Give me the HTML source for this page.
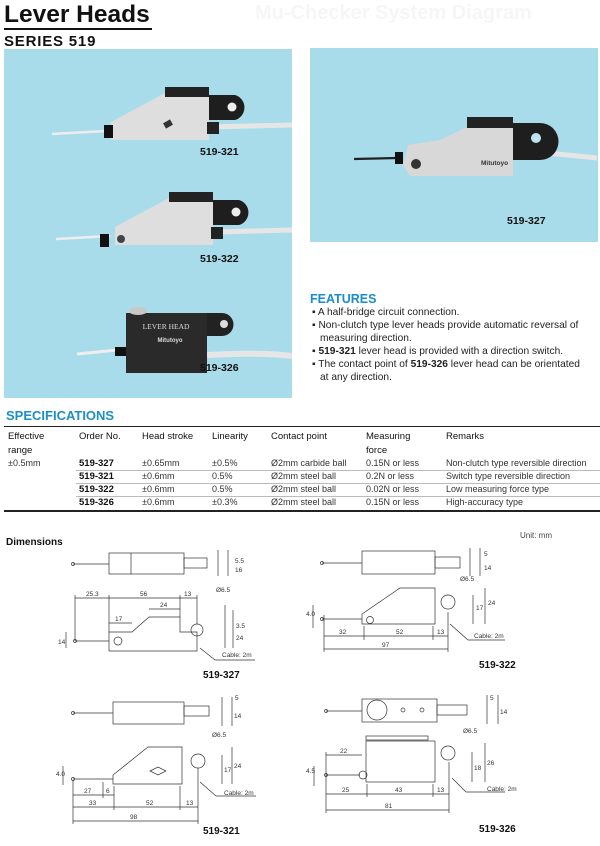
<!DOCTYPE html>
<html><head><meta charset="utf-8"><style>
body{margin:0;width:600px;height:846px;background:#fff;position:relative;overflow:hidden;font-family:"Liberation Sans",sans-serif;color:#111}
.a{position:absolute;white-space:nowrap}
.b{font-weight:bold}
.feat{font-size:10.2px;color:#222}
.t{font-size:9px;color:#333}
.th{font-size:9.5px;color:#111}
</style></head><body>
<div class="a b" style="left:4px;top:1px;font-size:24.5px">Lever Heads</div>
<div class="a" style="left:4px;top:28px;width:148px;height:2px;background:#111"></div>
<div class="a b" style="left:4px;top:33px;font-size:15px;letter-spacing:0.8px">SERIES 519</div>
<div class="a" style="left:255px;top:2px;font-size:20px;color:#f6f6f6;font-weight:bold">Mu-Checker System Diagram</div>

<div class="a" style="left:4px;top:49px;width:288px;height:349px;background:#a9dcea"></div>
<div class="a" style="left:310px;top:48px;width:288px;height:194px;background:#a9dcea"></div>

<svg class="a" style="left:0;top:0" width="600" height="846">
<g>
<line x1="52" y1="134" x2="106" y2="131" stroke="#eee" stroke-width="2.5"/>
<path d="M209 127 Q250 126 292 125" stroke="#e6e6e6" stroke-width="5" fill="none"/>
<polygon points="111,140 111,122 165,93 209,93 209,140" fill="#dedede"/>
<rect x="165" y="87" width="44" height="10" fill="#222"/>
<path d="M209 95 H235 A13 13 0 0 1 235 120 H209Z" fill="#1e1e1e"/>
<circle cx="232" cy="107" r="4.5" fill="#eee"/>
<rect x="104" y="125" width="9" height="13" fill="#111"/>
<rect x="207" y="122" width="12" height="12" fill="#222"/>
<rect x="164" y="121" width="8" height="6" fill="#333" transform="rotate(-30 168 124)"/>
</g>
<g transform="translate(4,105)">
<line x1="52" y1="134" x2="106" y2="131" stroke="#eee" stroke-width="2.5"/>
<path d="M209 127 Q250 126 288 125" stroke="#e6e6e6" stroke-width="5" fill="none"/>
<polygon points="111,140 111,122 165,93 209,93 209,140" fill="#dedede"/>
<rect x="165" y="87" width="44" height="10" fill="#222"/>
<path d="M209 95 H235 A13 13 0 0 1 235 120 H209Z" fill="#1e1e1e"/>
<circle cx="232" cy="107" r="4.5" fill="#eee"/>
<rect x="96" y="129" width="9" height="13" fill="#111"/>
<circle cx="117" cy="134" r="4" fill="#444"/>
<rect x="207" y="122" width="12" height="12" fill="#222"/>
</g>
<g>
<line x1="77" y1="354" x2="118" y2="350" stroke="#eee" stroke-width="3"/>
<path d="M207 355 Q260 352 292 356" stroke="#e6e6e6" stroke-width="6" fill="none"/>
<rect x="126" y="313" width="81" height="60" fill="#2a2a2a"/>
<path d="M207 313 H222 A11 11 0 0 1 222 336 H207Z" fill="#222"/>
<circle cx="224" cy="324" r="4" fill="#ddd"/>
<ellipse cx="138" cy="311" rx="9" ry="4" fill="#c8c8c8"/>
<rect x="115" y="347" width="11" height="9" fill="#111"/>
<text x="166" y="329" font-family="Liberation Serif" font-size="7.5" fill="#ddd" text-anchor="middle">LEVER HEAD</text>
<text x="170" y="342" font-family="Liberation Sans" font-size="6" fill="#ddd" text-anchor="middle" font-weight="bold">Mitutoyo</text>
</g>
<g>
<line x1="354" y1="159" x2="397" y2="158" stroke="#222" stroke-width="2.2"/>
<path d="M513 150 Q560 154 597 158" stroke="#e6e6e6" stroke-width="5" fill="none"/>
<polygon points="410,176 403,165 408,145 440,140 467,127 513,127 513,176" fill="#d8d8d8"/>
<rect x="467" y="117" width="46" height="11" fill="#222"/>
<path d="M513 123 H540 A15 15 0 0 1 540 160 H513Z" fill="#1e1e1e"/>
<circle cx="536" cy="138" r="5" fill="#bfe3ee"/>
<rect x="395" y="152" width="8" height="12" fill="#111"/>
<circle cx="416" cy="164" r="5" fill="#333"/>
<text x="481" y="165" font-size="6.5" font-weight="bold" fill="#333">Mitutoyo</text>
</g>

<g stroke="#333" stroke-width="0.7" fill="none">
<rect x="109" y="553" width="75" height="21"/><rect x="184" y="558" width="23" height="10"/>
<line x1="131" y1="553" x2="131" y2="574"/><line x1="73" y1="564" x2="109" y2="564"/><circle cx="73" cy="564" r="1.5"/>
<line x1="218" y1="550" x2="218" y2="576"/><line x1="228" y1="550" x2="228" y2="576"/>
<polygon points="109,651 109,632 132,632 149,617 180,617 180,632 197,632 197,651"/>
<circle cx="197" cy="630" r="6"/><circle cx="118" cy="641" r="4"/>
<line x1="75" y1="641" x2="109" y2="641"/><circle cx="75" cy="641" r="1.5"/>
<line x1="75" y1="598" x2="197" y2="598"/><line x1="75" y1="595" x2="75" y2="641"/><line x1="109" y1="595" x2="109" y2="632"/><line x1="180" y1="595" x2="180" y2="617"/><line x1="197" y1="595" x2="197" y2="624"/>
<line x1="149" y1="609" x2="180" y2="609"/><line x1="109" y1="623" x2="132" y2="623"/>
<line x1="225" y1="605" x2="225" y2="648"/><line x1="233" y1="610" x2="233" y2="648"/>
<line x1="66" y1="632" x2="66" y2="648"/>
<line x1="200" y1="648" x2="215" y2="660" /><line x1="215" y1="660" x2="255" y2="660"/>
<rect x="362" y="551" width="73" height="23"/><rect x="435" y="557" width="25" height="11"/>
<line x1="322" y1="563" x2="362" y2="563"/><circle cx="322" cy="563" r="1.5"/>
<line x1="470" y1="548" x2="470" y2="576"/><line x1="480" y1="548" x2="480" y2="576"/>
<polygon points="362,624 362,614 400,588 435,588 435,624"/>
<circle cx="448" cy="602" r="7"/><circle cx="370" cy="620" r="3.5"/>
<line x1="322" y1="619" x2="362" y2="619"/><circle cx="322" cy="619" r="1.5"/>
<line x1="324" y1="636" x2="448" y2="636"/><line x1="324" y1="649" x2="448" y2="649"/>
<line x1="324" y1="615" x2="324" y2="652"/><line x1="364" y1="626" x2="364" y2="640"/><line x1="433" y1="626" x2="433" y2="640"/><line x1="448" y1="612" x2="448" y2="652"/>
<line x1="473" y1="595" x2="473" y2="624"/><line x1="485" y1="588" x2="485" y2="624"/><line x1="313" y1="605" x2="313" y2="628"/>
<line x1="450" y1="624" x2="468" y2="640"/><line x1="468" y1="640" x2="505" y2="640"/>
<rect x="113" y="702" width="71" height="22"/><rect x="184" y="706" width="25" height="10"/>
<line x1="73" y1="713" x2="113" y2="713"/><circle cx="73" cy="713" r="1.5"/>
<line x1="222" y1="697" x2="222" y2="726"/><line x1="232" y1="697" x2="232" y2="726"/>
<polygon points="113,784 113,775 148,747 182,747 182,784"/>
<circle cx="198" cy="761" r="7"/><path d="M150 771 l8 -4 l8 4 l-8 4z"/>
<line x1="73" y1="779" x2="113" y2="779"/><circle cx="73" cy="779" r="1.5"/>
<line x1="73" y1="795" x2="114" y2="795"/><line x1="73" y1="807" x2="198" y2="807"/><line x1="73" y1="821" x2="198" y2="821"/>
<line x1="73" y1="780" x2="73" y2="824"/><line x1="103" y1="782" x2="103" y2="798"/><line x1="114" y1="786" x2="114" y2="810"/><line x1="180" y1="786" x2="180" y2="810"/><line x1="198" y1="768" x2="198" y2="824"/>
<line x1="222" y1="755" x2="222" y2="784"/><line x1="232" y1="747" x2="232" y2="784"/><line x1="63" y1="766" x2="63" y2="785"/>
<line x1="200" y1="782" x2="216" y2="796"/><line x1="216" y1="796" x2="256" y2="796"/>
<rect x="362" y="699" width="75" height="23"/><circle cx="377" cy="710" r="10"/><rect x="437" y="705" width="30" height="10"/>
<circle cx="403" cy="710" r="2"/><circle cx="422" cy="710" r="2"/>
<line x1="326" y1="711" x2="362" y2="711"/><circle cx="326" cy="711" r="1.5"/>
<line x1="487" y1="695" x2="487" y2="724"/><line x1="498" y1="695" x2="498" y2="724"/>
<rect x="366" y="741" width="69" height="41"/><rect x="366" y="736" width="62" height="4"/>
<circle cx="448" cy="753" r="7"/><circle cx="363" cy="775" r="4"/>
<line x1="326" y1="775" x2="360" y2="775"/><circle cx="326" cy="775" r="1.5"/>
<line x1="326" y1="755" x2="362" y2="755"/><line x1="326" y1="794" x2="449" y2="794"/><line x1="326" y1="810" x2="449" y2="810"/>
<line x1="326" y1="752" x2="326" y2="813"/><line x1="367" y1="784" x2="367" y2="797"/><line x1="433" y1="784" x2="433" y2="797"/><line x1="449" y1="762" x2="449" y2="813"/>
<line x1="472" y1="752" x2="472" y2="782"/><line x1="485" y1="743" x2="485" y2="782"/><line x1="314" y1="766" x2="314" y2="786"/>
<line x1="452" y1="778" x2="466" y2="792"/><line x1="466" y1="792" x2="505" y2="792"/>
</g>
<g font-family="Liberation Sans" font-size="6.5" fill="#333">
<text x="86" y="596">25.3</text><text x="140" y="596">56</text><text x="184" y="596">13</text><text x="160" y="607">24</text><text x="115" y="621">17</text><text x="216" y="592">Ø6.5</text><text x="222" y="657">Cable: 2m</text>
<text x="235" y="563">5.5</text><text x="235" y="572">16</text><text x="236" y="628">3.5</text><text x="236" y="640">24</text><text x="58" y="644">14</text>
<text x="339" y="634">32</text><text x="396" y="634">52</text><text x="437" y="634">13</text><text x="382" y="647">97</text><text x="460" y="581">Ø6.5</text><text x="474" y="638">Cable: 2m</text>
<text x="484" y="556">5</text><text x="484" y="570">14</text><text x="476" y="610">17</text><text x="488" y="605">24</text><text x="306" y="616">4.0</text>
<text x="84" y="793">27</text><text x="106" y="793">6</text><text x="89" y="805">33</text><text x="146" y="805">52</text><text x="186" y="805">13</text><text x="130" y="819">98</text><text x="212" y="737">Ø6.5</text><text x="224" y="795">Cable: 2m</text>
<text x="235" y="700">5</text><text x="234" y="718">14</text><text x="224" y="772">17</text><text x="234" y="768">24</text><text x="56" y="776">4.0</text>
<text x="340" y="753">22</text><text x="342" y="792">25</text><text x="395" y="792">43</text><text x="437" y="792">13</text><text x="385" y="808">81</text><text x="463" y="733">Ø6.5</text><text x="487" y="791">Cable: 2m</text>
<text x="490" y="700">5</text><text x="500" y="714">14</text><text x="474" y="770">18</text><text x="487" y="765">26</text><text x="306" y="773">4.5</text>
</g>
</svg>

<div class="a b" style="left:200px;top:146px;font-size:10.5px">519-321</div>
<div class="a b" style="left:200px;top:253px;font-size:10.5px">519-322</div>
<div class="a b" style="left:200px;top:362px;font-size:10.5px">519-326</div>
<div class="a b" style="left:507px;top:215px;font-size:10.5px">519-327</div>

<div class="a b" style="left:310px;top:292px;font-size:12.5px;color:#1b8ec9">FEATURES</div>
<div class="a feat" style="left:312px;top:307px">▪ A half-bridge circuit connection.</div>
<div class="a feat" style="left:312px;top:320px">▪ Non-clutch type lever heads provide automatic reversal of</div>
<div class="a feat" style="left:320px;top:333px">measuring direction.</div>
<div class="a feat" style="left:312px;top:346px">▪ <b>519-321</b> lever head is provided with a direction switch.</div>
<div class="a feat" style="left:312px;top:359px">▪ The contact point of <b>519-326</b> lever head can be orientated</div>
<div class="a feat" style="left:320px;top:372px">at any direction.</div>

<div class="a b" style="left:6px;top:408px;font-size:13px;color:#1b8ec9">SPECIFICATIONS</div>
<div class="a" style="left:4px;top:426px;width:596px;height:1px;background:#222"></div>
<div class="a th" style="left:8px;top:431px">Effective</div><div class="a th" style="left:8px;top:445px">range</div>
<div class="a th" style="left:79px;top:431px">Order No.</div>
<div class="a th" style="left:142px;top:431px">Head stroke</div>
<div class="a th" style="left:212px;top:431px">Linearity</div>
<div class="a th" style="left:271px;top:431px">Contact point</div>
<div class="a th" style="left:366px;top:431px">Measuring</div><div class="a th" style="left:366px;top:445px">force</div>
<div class="a th" style="left:446px;top:431px">Remarks</div>
<div class="a t" style="left:8px;top:458px">±0.5mm</div>
<div class="a" style="left:76px;top:470px;width:524px;height:1px;background:#bbb"></div>
<div class="a" style="left:76px;top:483px;width:524px;height:1px;background:#bbb"></div>
<div class="a" style="left:76px;top:496px;width:524px;height:1px;background:#bbb"></div>
<div class="a t b" style="left:79px;top:458px;color:#111;font-size:9.5px">519-327</div><div class="a t" style="left:142px;top:458px">±0.65mm</div><div class="a t" style="left:212px;top:458px">±0.5%</div><div class="a t" style="left:271px;top:458px">Ø2mm carbide ball</div><div class="a t" style="left:366px;top:458px">0.15N or less</div><div class="a t" style="left:446px;top:458px">Non-clutch type reversible direction</div>
<div class="a t b" style="left:79px;top:471px;color:#111;font-size:9.5px">519-321</div><div class="a t" style="left:142px;top:471px">±0.6mm</div><div class="a t" style="left:212px;top:471px">0.5%</div><div class="a t" style="left:271px;top:471px">Ø2mm steel ball</div><div class="a t" style="left:366px;top:471px">0.2N or less</div><div class="a t" style="left:446px;top:471px">Switch type reversible direction</div>
<div class="a t b" style="left:79px;top:484px;color:#111;font-size:9.5px">519-322</div><div class="a t" style="left:142px;top:484px">±0.6mm</div><div class="a t" style="left:212px;top:484px">0.5%</div><div class="a t" style="left:271px;top:484px">Ø2mm steel ball</div><div class="a t" style="left:366px;top:484px">0.02N or less</div><div class="a t" style="left:446px;top:484px">Low measuring force type</div>
<div class="a t b" style="left:79px;top:497px;color:#111;font-size:9.5px">519-326</div><div class="a t" style="left:142px;top:497px">±0.6mm</div><div class="a t" style="left:212px;top:497px">±0.3%</div><div class="a t" style="left:271px;top:497px">Ø2mm steel ball</div><div class="a t" style="left:366px;top:497px">0.15N or less</div><div class="a t" style="left:446px;top:497px">High-accuracy type</div>
<div class="a" style="left:4px;top:510px;width:596px;height:1.5px;background:#222"></div>

<div class="a b" style="left:6px;top:537px;font-size:10px">Dimensions</div>
<div class="a" style="left:520px;top:531px;font-size:8px;color:#444">Unit: mm</div>
<div class="a b" style="left:203px;top:670px;font-size:10px">519-327</div>
<div class="a b" style="left:479px;top:660px;font-size:10px">519-322</div>
<div class="a b" style="left:203px;top:826px;font-size:10px">519-321</div>
<div class="a b" style="left:479px;top:824px;font-size:10px">519-326</div>
</body></html>
